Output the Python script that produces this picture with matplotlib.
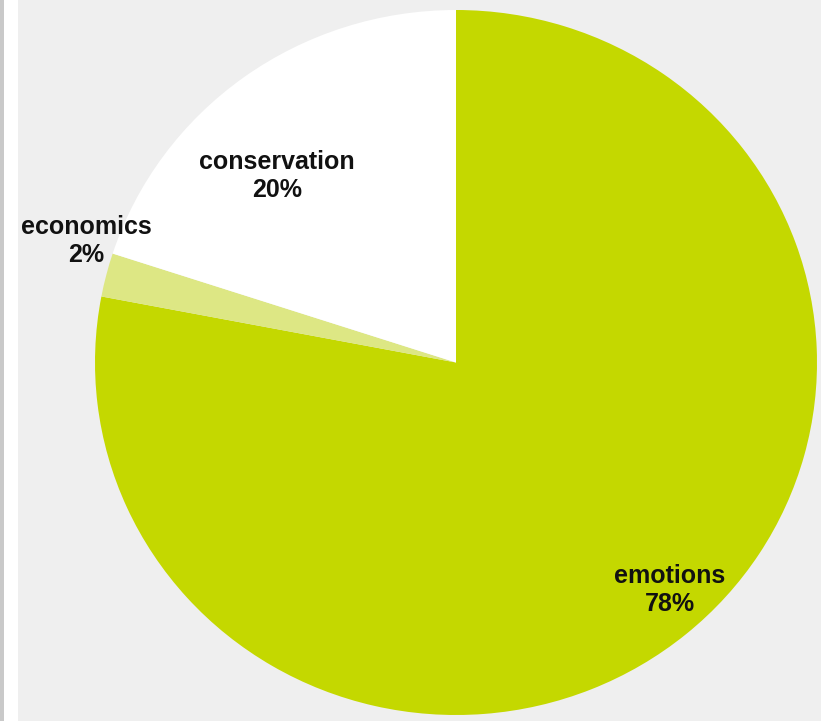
import matplotlib.pyplot as plt
from matplotlib.patches import Rectangle

# slice data, drawn clockwise from 12 o'clock
names = ["emotions", "economics", "conservation"]
shares = [78, 2, 20]
colors = ["#c4d800", "#dde784", "#ffffff"]

# label anchor points in data units (pie radius = 1)
label_xy = [(0.593, -0.645), (-1.025, 0.345), (-0.495, 0.53)]


def main():
    fig = plt.figure(figsize=(8.21, 7.21), dpi=100, facecolor="#efefef")

    # thin frame strip along the left edge
    fig.patches.append(Rectangle((0, 0), 4 / 821, 1, transform=fig.transFigure,
                                 facecolor="#c9c9c9", edgecolor="none"))
    fig.patches.append(Rectangle((4 / 821, 0), 14 / 821, 1, transform=fig.transFigure,
                                 facecolor="#ffffff", edgecolor="none"))

    ax = fig.add_axes([95 / 821, 6 / 721, 722 / 821, 705 / 721])
    ax.pie(shares, colors=colors, startangle=90, counterclock=False,
           radius=1, wedgeprops=dict(linewidth=0))
    ax.set_aspect("auto")
    ax.set_xlim(-1, 1)
    ax.set_ylim(-1, 1)
    ax.axis("off")

    total = sum(shares)
    for name, v, (x, y) in zip(names, shares, label_xy):
        ax.text(x, y, "{0}\n{1:.0f}%".format(name, 100 * v / total),
                ha="center", va="center", fontsize=18, fontweight="bold",
                family="Liberation Sans", color="#111111",
                linespacing=1.22, clip_on=False)

    fig.savefig("out.png", dpi=100, facecolor=fig.get_facecolor())


if __name__ == '__main__':
    main()
